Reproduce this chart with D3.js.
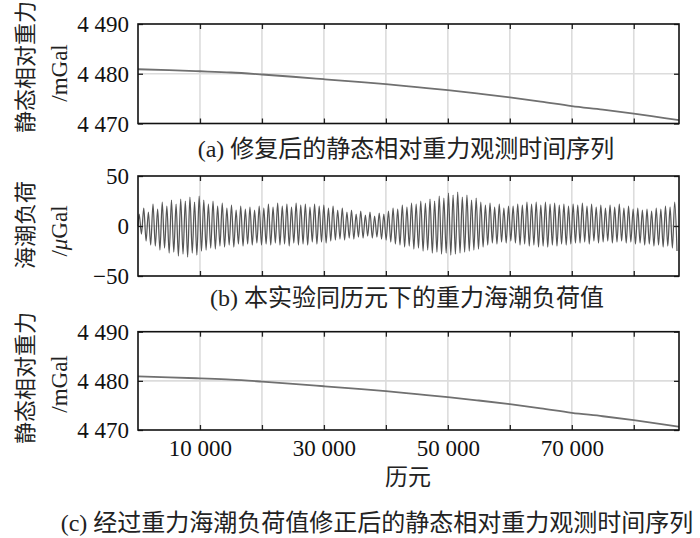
<!DOCTYPE html>
<html><head><meta charset="utf-8">
<script src="https://cdn.jsdelivr.net/npm/d3@7"></script>
<style>body{margin:0;background:#fff}</style>
</head><body><svg id="c" width="700" height="538"></svg>
<script>
// ---- data ----
const trendEpochs = [0,5000,10000,15000,20000,25000,30000,35000,40000,45000,50000,55000,60000,65000,70000,75000,80000,85000,87300];
const repairedGravity = [4480.9,4480.72,4480.5,4480.25,4479.85,4479.4,4478.9,4478.4,4477.9,4477.3,4476.7,4476.0,4475.25,4474.4,4473.5,4472.8,4472.0,4471.1,4470.7];
const correctedGravity = [4480.9,4480.72,4480.5,4480.25,4479.85,4479.4,4478.9,4478.4,4477.9,4477.3,4476.7,4476.0,4475.25,4474.4,4473.5,4472.8,4472.0,4471.1,4470.65];
// ocean tide loading: successive high / low extremes (µGal), one pair per semidiurnal cycle
const tidePeaks = [12,18,14, 22,17,24,20, 26,22,27,25,29,24,30, 26,22,25,20,23,
  18,21,16,20,17,19,16,20, 18,22,19,23,20,22,19,23,21,22,19,22,20,21,
  18,20,16,18,14,16,12,15,11,14,10,13,12, 15,18,17,21,19,23,22, 25,23,27,25,30,28,33,
  31,34,29,31,26,28,24, 21,23,19,22,18,20, 20,22,21,24,22,24,21,24,22,23,21,22,20,22,
  21,23,20,22,19,21,18,21,19,22,18,20,17, 18,16,17,15,18,17,20,19,24];
const tideTroughs = [-8,-15,-19, -20,-24,-22,-27, -26,-30,-28,-31,-27,-29,-25, -24,-22,-23,-20,-21,
  -19,-21,-18,-20,-18,-19,-17,-19, -18,-19,-17,-19,-18,-20,-17,-19,-18,-19,-16,-18,-16,-17,
  -15,-14,-13,-14,-12,-13,-11,-12,-10,-12,-11,-13,-14, -16,-18,-19,-21,-20,-23,-22, -25,-24,-27,-26,-28,-27,-29,
  -28,-27,-26,-25,-24,-23,-21, -19,-17,-18,-16,-17,-15, -17,-19,-18,-20,-19,-21,-20,-21,-19,-20,-18,-19,-18,-17,
  -17,-16,-18,-15,-17,-16,-15,-17,-16,-15,-17,-16,-18, -17,-19,-18,-20,-19,-21,-20,-22,-25];
const tideHalfStep = 372.5; // epochs between successive extremes
const epochMax = 87300;
const xTicks = [10000,20000,30000,40000,50000,60000,70000,80000];
const xTickLabels = ["10 000","","30 000","","50 000","","70 000",""];
const gravityTicks = [4470,4480,4490];
const gravityTickLabels = ["4 470","4 480","4 490"];
const tideTicks = [-50,0,50];
const tideTickLabels = ["\u221250","0","50"];
const captions = ["(a) 修复后的静态相对重力观测时间序列","(b) 本实验同历元下的重力海潮负荷值","(c) 经过重力海潮负荷值修正后的静态相对重力观测时间序列"];
const xTitle = "历元";

// ---- build series ----
const seriesA = trendEpochs.map((t,i)=>[t, repairedGravity[i]]);
const seriesC = trendEpochs.map((t,i)=>[t, correctedGravity[i]]);
const seriesB = [[0,0]];
tidePeaks.forEach((p,k)=>{
  seriesB.push([(2*k+0.5)*tideHalfStep, p]);
  seriesB.push([(2*k+1.5)*tideHalfStep, tideTroughs[k]]);
});

const svg = d3.select("#c");
const serif = "'Liberation Serif','Times New Roman',serif";
const mixed = "'Liberation Serif','Noto Sans CJK SC',serif";
const x = d3.scaleLinear().domain([0, epochMax]).range([138, 679]);

const panels = [
  {top:24, bottom:123.5, domain:[4470,4490], ticks:gravityTicks, labels:gravityTickLabels, grid:4480, data:seriesA, curve:d3.curveMonotoneX, stroke:"#707070", sw:1.8,
   yl1:"静态相对重力", yl2:"/mGal", ylc:67, cap:captions[0], capX:406, capY:157, showX:false},
  {top:176, bottom:276, domain:[-50,50], ticks:tideTicks, labels:tideTickLabels, grid:0, data:seriesB, curve:d3.curveMonotoneX, stroke:"#555", sw:1.25,
   yl1:"海潮负荷", yl2:"/μGal", ylc:225, cap:captions[1], capX:407, capY:306, showX:false},
  {top:331.7, bottom:430, domain:[4470,4490], ticks:gravityTicks, labels:gravityTickLabels, grid:4480, data:seriesC, curve:d3.curveMonotoneX, stroke:"#707070", sw:1.8,
   yl1:"静态相对重力", yl2:"/mGal", ylc:378, cap:captions[2], capX:377, capY:531, showX:true}
];

panels.forEach(p=>{
  const y = d3.scaleLinear().domain(p.domain).range([p.bottom, p.top]);
  const g = svg.append("g");
  // grid
  g.selectAll(".vg").data(xTicks).join("line")
    .attr("x1",d=>x(d)).attr("x2",d=>x(d)).attr("y1",p.top).attr("y2",p.bottom)
    .attr("stroke","#dcdcdc").attr("stroke-width",1.6);
  g.append("line").attr("x1",x(0)).attr("x2",x(epochMax)).attr("y1",y(p.grid)).attr("y2",y(p.grid))
    .attr("stroke","#dcdcdc").attr("stroke-width",1.6);
  // data
  g.append("path").datum(p.data)
    .attr("d", d3.line().x(d=>x(d[0])).y(d=>y(d[1])).curve(p.curve))
    .attr("fill","none").attr("stroke",p.stroke).attr("stroke-width",p.sw).attr("stroke-linejoin","round");
  // axes (inward ticks on all four sides)
  const tl = 5;
  const bx = g.append("g").attr("transform",`translate(0,${p.bottom})`)
    .call(d3.axisBottom(x).tickValues(xTicks).tickSizeInner(-tl).tickSizeOuter(0).tickFormat((d,i)=>p.showX?xTickLabels[i]:""));
  const tx = g.append("g").attr("transform",`translate(0,${p.top})`)
    .call(d3.axisTop(x).tickValues(xTicks).tickSizeInner(-tl).tickSizeOuter(0).tickFormat(""));
  const ly = g.append("g").attr("transform",`translate(${x(0)},0)`)
    .call(d3.axisLeft(y).tickValues(p.ticks).tickSizeInner(-tl).tickSizeOuter(0).tickFormat((d,i)=>p.labels[i]).tickPadding(9));
  const ry = g.append("g").attr("transform",`translate(${x(epochMax)},0)`)
    .call(d3.axisRight(y).tickValues(p.ticks).tickSizeInner(-tl).tickSizeOuter(0).tickFormat(""));
  [bx,tx,ly,ry].forEach(a=>{
    a.select(".domain").remove();
    a.selectAll(".tick line").attr("stroke","#222").attr("stroke-width",1.3);
    a.selectAll("text").attr("font-family",serif).attr("font-size",23).attr("fill","#111");
  });
  bx.selectAll("text").attr("dy","1.0em");
  ly.selectAll("text").attr("dy","0.34em");
  // frame
  g.append("rect").attr("x",x(0)).attr("y",p.top).attr("width",x(epochMax)-x(0)).attr("height",p.bottom-p.top)
    .attr("fill","none").attr("stroke","#111").attr("stroke-width",1.6);
  // y titles
  g.append("text").attr("transform",`translate(33,${p.ylc}) rotate(-90)`).attr("text-anchor","middle")
    .attr("font-family","'Noto Sans CJK SC',sans-serif").attr("font-size",22).attr("fill","#222").text(p.yl1);
  const t2 = g.append("text").attr("transform",`translate(67,${p.ylc+6}) rotate(-90)`).attr("text-anchor","middle")
    .attr("font-family",serif).attr("font-size",23).attr("fill","#222");
  if (p.yl2.indexOf("μ")>=0){
    t2.append("tspan").text("/");
    t2.append("tspan").attr("font-style","italic").text("μ");
    t2.append("tspan").text("Gal");
  } else t2.text(p.yl2);
  // caption
  svg.append("text").attr("x",p.capX).attr("y",p.capY).attr("text-anchor","middle")
    .attr("font-family",mixed).attr("font-size",24).attr("fill","#222").text(p.cap);
});
svg.append("text").attr("x",408).attr("y",485).attr("text-anchor","middle")
  .attr("font-family","'Noto Sans CJK SC',sans-serif").attr("font-size",23).attr("fill","#222").text(xTitle);
</script></body></html>
